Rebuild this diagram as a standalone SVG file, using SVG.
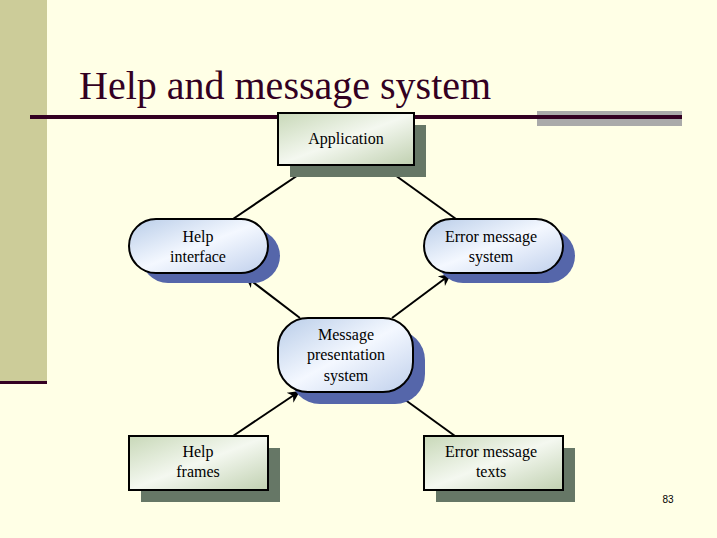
<svg xmlns="http://www.w3.org/2000/svg" width="717" height="538" viewBox="0 0 717 538">
<defs>
<linearGradient id="gb" x1="0" y1="0" x2="1" y2="1"><stop offset="0" stop-color="#c8d8b8"/><stop offset="0.5" stop-color="#f4f8f0"/><stop offset="1" stop-color="#c0d0b0"/></linearGradient>
<linearGradient id="gr" x1="0" y1="0" x2="1" y2="1"><stop offset="0" stop-color="#b8cce8"/><stop offset="0.5" stop-color="#f4f8ff"/><stop offset="1" stop-color="#c0d0ec"/></linearGradient>
<marker id="ar" viewBox="0 0 10 10" refX="10" refY="5" markerWidth="16" markerHeight="12" markerUnits="userSpaceOnUse" orient="auto"><path d="M0,0 L10,5 L0,10 L3,5 z" fill="#000"/></marker>
</defs>
<style>
.box{fill:url(#gb);stroke:#000;stroke-width:2}
.bsh{fill:#667766}
.rnd{fill:url(#gr);stroke:#000;stroke-width:2}
.rsh{fill:#5566aa}
.t{font-family:"Liberation Serif",serif;font-size:16px;text-anchor:middle;fill:#000}
.c{stroke:#000;stroke-width:2;fill:none}
</style>
<rect width="717" height="538" fill="#ffffe6"/>
<rect x="0" y="0" width="47" height="382" fill="#cccc99"/>
<rect x="0" y="381" width="47" height="3" fill="#330022"/>
<rect x="537" y="111" width="145" height="15" fill="#aaaaaa"/>
<rect x="30" y="115" width="652" height="4" fill="#330022"/>
<text x="79" y="99" font-family="Liberation Serif,serif" font-size="40" fill="#330022">Help and message system</text>
<g id="connectors">
<line class="c" x1="313" y1="165" x2="233" y2="219"/>
<line class="c" x1="381" y1="165" x2="456" y2="219"/>
<line class="c" x1="300" y1="318" x2="245" y2="276" marker-end="url(#ar)"/>
<line class="c" x1="392" y1="318" x2="451" y2="274" marker-end="url(#ar)"/>
<line class="c" x1="233" y1="436" x2="300" y2="391" marker-end="url(#ar)"/>
<line class="c" x1="455" y1="436" x2="393" y2="391" marker-end="url(#ar)"/>
</g>
<g id="application"><rect class="bsh" x="290" y="125" width="136" height="52"/><rect class="box" x="278" y="113" width="136" height="52"/><text class="t" x="346" y="144">Application</text></g>
<g id="help-interface"><rect class="rsh" x="141" y="229" width="139" height="54" rx="27"/><rect class="rnd" x="129" y="219" width="139" height="54" rx="27"/><text class="t" x="198" y="242">Help</text><text class="t" x="198" y="262">interface</text></g>
<g id="error-message-system"><rect class="rsh" x="436" y="229" width="139" height="54" rx="27"/><rect class="rnd" x="424" y="219" width="139" height="54" rx="27"/><text class="t" x="491" y="242">Error message</text><text class="t" x="491" y="262">system</text></g>
<g id="message-presentation"><rect class="rsh" x="290" y="330" width="135" height="74" rx="30"/><rect class="rnd" x="278" y="318" width="135" height="74" rx="30"/><text class="t" x="346" y="340">Message</text><text class="t" x="346" y="360">presentation</text><text class="t" x="346" y="381">system</text></g>
<g id="help-frames"><rect class="bsh" x="141" y="448" width="139" height="54"/><rect class="box" x="129" y="436" width="139" height="54"/><text class="t" x="198" y="457">Help</text><text class="t" x="198" y="477">frames</text></g>
<g id="error-message-texts"><rect class="bsh" x="436" y="448" width="139" height="54"/><rect class="box" x="424" y="436" width="139" height="54"/><text class="t" x="491" y="457">Error message</text><text class="t" x="491" y="477">texts</text></g>
<text x="668" y="503" font-family="Liberation Sans,sans-serif" font-size="10" text-anchor="middle" fill="#000">83</text>
</svg>
